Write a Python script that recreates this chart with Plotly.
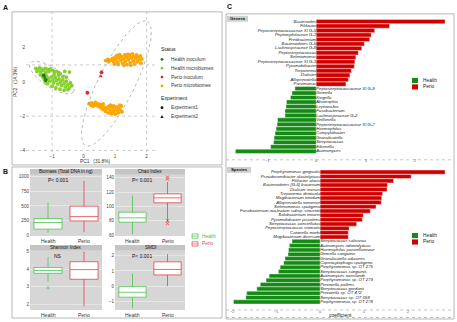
import numpy as np
import plotly.graph_objects as go

W, H = 457, 322
def px(x): return x / W
def py(y): return 1 - y / H

FONT = "Liberation Sans, Arial, sans-serif"

# ---------------- Panel A: PCA data ----------------
health_micro_x = [-1.52,-1.45,-1.40,-1.33,-1.28,-1.22,-1.15,-1.10,-1.05,-0.98,-0.92,-0.86,-0.80,-0.74,-1.48,-1.36,-1.20,
                  -1.38,-1.30,-1.25,-1.18,-1.12,-1.08,-1.02,-0.98,-0.95,-0.90,-0.86,-0.82,-0.78,-0.74,-0.70,-0.66,-0.62,
                  -0.58,-0.55,-0.50,-0.46,-0.42,-0.38,-1.15,-1.00,-0.88,-0.75,-0.62,-0.50,-1.22,-0.94,-0.80,-0.66,-0.55,
                  -0.45,-0.60]
health_micro_y = [0.80,0.72,0.82,0.75,0.68,0.80,0.74,0.62,0.76,0.68,0.58,0.62,0.55,0.48,0.62,0.58,0.55,
                  0.42,0.30,0.15,0.36,0.22,0.05,0.30,0.12,-0.05,0.25,0.08,-0.12,0.18,0.00,-0.20,0.12,-0.08,
                  -0.28,0.05,-0.15,-0.35,-0.05,-0.22,-0.10,-0.25,-0.35,-0.42,-0.48,-0.45,0.02,0.42,0.40,0.32,0.28,
                  0.58,0.62]
health_micro_exp = [1] * len(health_micro_x)

health_inoc_x = [-1.27, -1.20, -1.23]
health_inoc_y = [0.40, 0.11, 0.26]
health_inoc_exp = [1, 1, 2]

perio_inoc_x = [0.12, 0.57, 0.54]
perio_inoc_y = [-0.63, 0.57, 0.34]
perio_inoc_exp = [1, 1, 2]

perio_micro_x = [0.70,0.76,0.80,0.86,0.92,0.95,1.00,1.02,1.06,1.08,1.12,1.15,1.18,1.20,1.24,1.26,1.30,1.32,1.35,1.38,
                 1.40,1.42,1.46,1.48,1.52,1.55,1.57,1.60,1.62,1.65,1.68,1.70,1.73,1.76,1.80,1.82,1.85,1.10,0.98,1.28,
                 1.50,1.45,
                 0.18,0.22,0.26,0.30,0.34,0.38,0.42,0.46,0.50,0.54,0.58,0.60,0.64,0.68,0.70,0.74,0.78,0.80,0.84,0.88,
                 0.90,0.94,0.98,1.00,1.04,1.06,1.10,1.12,1.16,1.20,1.22,0.85,0.62,1.15,0.95]
perio_micro_y = [1.25,1.32,1.18,1.28,1.38,1.20,1.45,1.30,1.55,1.15,1.40,1.60,1.25,1.48,1.08,1.35,1.58,1.20,1.45,1.02,
                 1.62,1.30,1.52,1.12,1.40,1.65,1.22,1.50,1.05,1.35,1.58,1.18,1.45,1.28,1.52,1.10,1.35,1.02,1.05,0.98,
                 0.98,1.60,
                 -1.25,-1.35,-1.22,-1.42,-1.30,-1.20,-1.38,-1.28,-1.45,-1.32,-1.55,-1.40,-1.62,-1.48,-1.72,-1.55,-1.80,
                 -1.42,-1.65,-1.85,-1.50,-1.72,-1.58,-1.88,-1.45,-1.68,-1.80,-1.52,-1.62,-1.40,-1.75,-1.35,-1.28,-1.35,
                 -1.40]
perio_micro_exp = [1] * len(perio_micro_x)

status_names = ["Health inoculum", "Health microbiomes", "Perio inoculum", "Perio microbiomes"]
status_colors = ["#1E7A1E", "#86D02A", "#E4262A", "#FFA500"]
experiment_names = ["Experiment1", "Experiment2"]

# confidence ellipses (center, half-axis vectors) in PC units
ell_health = dict(c=(-1.01, 0.26), u=(0.69, -0.83), v=(-0.17, -0.46))
ell_perio = dict(c=(1.04, -0.09), u=(0.98, 3.63), v=(0.52, -0.46))

# ---------------- Panel B: boxplot stats ----------------
groups = ["Health", "Perio"]
box_titles = ["Biomass (Total DNA in ng)", "Chao Index", "Shannon Index", "SMDI"]
box_pvals = ["P< 0.001", "P< 0.001", "NS", "P< 0.001"]
# per metric: [Health, Perio]
box_low = [[40, 50], [61, 78], [3.27, 1.9], [-1.45, 0.0]]
box_q1 = [[102, 242], [78, 105], [3.77, 3.43], [-0.72, 0.74]]
box_med = [[215, 317], [84, 112], [3.93, 3.98], [-0.40, 1.10]]
box_q3 = [[283, 496], [92, 117.5], [4.10, 4.43], [-0.03, 1.60]]
box_high = [[554, 930], [115, 134], [4.70, 5.0], [0.84, 2.10]]
box_out_y = [[[], []], [[], [141, 138, 80, 76]], [[2.95], []], [[], []]]
box_ranges = [[-17, 1034], [58.6, 144.1], [1.67, 5.05], [-1.57, 2.32]]
box_ticks = [[0, 250, 500, 750, 1000], [60, 80, 100, 120, 140], [2, 3, 4, 5], [-1, 0, 1, 2]]
group_colors = ["#4CC24C", "#E0454F"]

# ---------------- Panel C: coefficients ----------------
genera = ["Bacteroides", "Filifactor", "Peptostreptococcaceae XI G-5", "Peptoniphilaceae G-1", "Fretibacterium",
          "Bacteroidetes G-5", "Lachnospiraceae G-8", "Peptostreptococcus", "Selenomonas",
          "Peptostreptococcaceae XI G-1", "Pyramidobacter", "Treponema", "Dialister", "Alloprevotella",
          "Parvimonas", "Peptostreptococcaceae XI G-9", "Gemella", "Kingella", "Abiotrophia", "Leptotrichia",
          "Fusobacterium", "Lachnospiraceae G-2", "Veillonella", "Peptostreptococcaceae XI G-7", "Haemophilus",
          "Campylobacter", "Granulicatella", "Streptococcus", "Eikenella", "Actinomyces"]
genera_coef = [2.60, 1.48, 1.18, 1.11, 1.08, 0.97, 0.92, 0.85, 0.80, 0.78, 0.77, 0.71, 0.68, 0.65, 0.60,
               -0.43, -0.49, -0.52, -0.60, -0.61, -0.63, -0.63, -0.78, -0.79, -0.81, -0.83, -0.85, -0.86,
               -0.92, -1.63]
genera_ticks = [-1, 0, 1, 2]

species = ["Porphyromonas gingivalis", "Pseudoramibacter alactolyticus", "Filifactor alocis",
           "Bacteroidetes [G-5] bacterium", "Dialister invisus", "Treponema denticola", "Mogibacterium timidum",
           "Alloprevotella tannerae", "Selenomonas sputigena", "Fusobacterium nucleatum subsp. vincentii",
           "Solobacterium moorei", "Pyramidobacter piscolens", "Streptococcus constellatus",
           "Peptostreptococcus stomatis", "Catonella morbi", "Mogibacterium diversum",
           "Streptococcus salivarius", "Actinomyces odontolyticus", "Haemophilus parainfluenzae",
           "Gemella sanguinis", "Granulicatella adiacens", "Capnocytophaga sputigena", "Porphyromonas sp. OT 275",
           "Streptococcus sanguinis", "Actinomyces naeslundii", "Porphyromonas sp. OT 279", "Prevotella pallens",
           "Streptococcus gordonii", "Prevotella sp. OT 472", "Streptococcus sp. OT 058",
           "Porphyromonas sp. OT 278"]
species_coef = [2.84, 2.07, 1.67, 1.53, 1.52, 1.42, 1.40, 1.39, 1.27, 1.14, 0.98, 0.96, 0.83, 0.66, 0.64, 0.64,
                -0.64, -0.70, -0.72, -0.73, -0.80, -0.83, -0.91, -0.95, -1.16, -1.23, -1.36, -1.44, -1.67,
                -1.69, -1.97]
species_ticks = [-2, -1, 0, 1, 2]
bar_colors = {"Health": "#148C14", "Perio": "#D00000"}

# ======================================================
fig = go.Figure()
shapes, annos = [], []

def anno(x, y, text, size=5, color="#222", xanchor="center", yanchor="middle", xref="paper", **kw):
    annos.append(dict(x=(px(x) if xref == "paper" else x), y=py(y), xref=xref, yref="paper", text=text,
                      showarrow=False, font=dict(size=size, color=color, family=FONT),
                      xanchor=xanchor, yanchor=yanchor, **kw))

# ---- Panel A traces
def sym(exps):
    return ["circle" if e == 1 else "triangle-up" for e in exps]

for name, col, xs, ys, ex in [
    ("Health microbiomes", status_colors[1], health_micro_x, health_micro_y, health_micro_exp),
    ("Perio microbiomes", status_colors[3], perio_micro_x, perio_micro_y, perio_micro_exp),
    ("Health inoculum", status_colors[0], health_inoc_x, health_inoc_y, health_inoc_exp),
    ("Perio inoculum", status_colors[2], perio_inoc_x, perio_inoc_y, perio_inoc_exp),
]:
    fig.add_trace(go.Scatter(x=xs, y=ys, mode="markers", name=name, showlegend=False,
                             marker=dict(color=col, size=3.8, symbol=sym(ex), line=dict(width=0)),
                             xaxis="x", yaxis="y"))

t = np.linspace(0, 2 * np.pi, 120)
for e in (ell_health, ell_perio):
    ex = e["c"][0] + np.cos(t) * e["u"][0] + np.sin(t) * e["v"][0]
    ey = e["c"][1] + np.cos(t) * e["u"][1] + np.sin(t) * e["v"][1]
    fig.add_trace(go.Scatter(x=ex, y=ey, mode="lines", showlegend=False, hoverinfo="skip",
                             line=dict(color="#9A9A9A", width=0.7, dash="dot"), xaxis="x", yaxis="y"))

# dotted reference lines in PCA
for xv in (-1, 2):
    shapes.append(dict(type="line", xref="x", yref="y domain", x0=xv, x1=xv, y0=0, y1=1,
                       line=dict(color="#B5B5B5", width=0.7, dash="dot")))
for yv in (1, -2, -4):
    shapes.append(dict(type="line", xref="x domain", yref="y", x0=0, x1=1, y0=yv, y1=yv,
                       line=dict(color="#B5B5B5", width=0.7, dash="dot")))

# ---- Panel B traces
bx = [(30, 102, 175, 237), (115, 185, 175, 237), (30, 102, 252, 312), (115, 185, 252, 312)]
for k in range(4):
    ax = k + 2
    for g in range(2):
        fig.add_trace(go.Box(x=[groups[g]], q1=[box_q1[k][g]], median=[box_med[k][g]], q3=[box_q3[k][g]],
                             lowerfence=[box_low[k][g]], upperfence=[box_high[k][g]], name=groups[g],
                             width=0.78, showlegend=False, fillcolor="white",
                             line=dict(color=group_colors[g], width=0.8),
                             whiskerwidth=0, xaxis=f"x{ax}", yaxis=f"y{ax}", hoverinfo="skip"))
        if box_out_y[k][g]:
            fig.add_trace(go.Scatter(x=[groups[g]] * len(box_out_y[k][g]), y=box_out_y[k][g], mode="markers",
                                     showlegend=False, marker=dict(symbol="x-thin", size=3,
                                     line=dict(color=group_colors[g], width=0.8)),
                                     xaxis=f"x{ax}", yaxis=f"y{ax}"))
    x0, x1, y0, y1 = bx[k]
    shapes.append(dict(type="rect", xref=f"x{ax} domain", yref=f"y{ax} domain", x0=0, x1=1, y0=0, y1=1,
                       fillcolor="#D6D6D6", line=dict(width=0), layer="below"))
    shapes.append(dict(type="rect", xref="paper", yref="paper", x0=px(x0), x1=px(x1), y0=py(y0), y1=py(y0 - 6),
                       fillcolor="#C4C4C4", line=dict(width=0)))
    anno((x0 + x1) / 2, y0 - 3, box_titles[k], size=4.6, color="#111")
    anno((x0 + x1) / 2 - 8, y0 + 5, box_pvals[k], size=5, color="#111")
    for g in range(2):
        anno(groups[g], y1 + 4.5, groups[g], size=5, color="#333", xref=f"x{ax}")

# ---- Panel C bars
def add_bars(names, coefs, ax):
    cols = [bar_colors["Perio"] if c > 0 else bar_colors["Health"] for c in coefs]
    fig.add_trace(go.Bar(x=coefs, y=names, orientation="h",
                         marker=dict(color=cols, line=dict(color="white", width=0.4)),
                         showlegend=False, xaxis=f"x{ax}", yaxis=f"y{ax}"))
    fig.add_trace(go.Scatter(x=[0] * len(names), y=names, mode="text", text=names,
                             textposition=["middle left" if c > 0 else "middle right" for c in coefs],
                             textfont=dict(size=4.3, color="#222", family=FONT, style="italic"),
                             showlegend=False, hoverinfo="skip", xaxis=f"x{ax}", yaxis=f"y{ax}"))

add_bars(genera, genera_coef, 6)
add_bars(species, species_coef, 7)
for tv in genera_ticks:
    anno(tv, 161.5, str(tv).replace("-", "−"), size=3.8, color="#555", xref="x6")
for tv in species_ticks:
    anno(tv, 313.5, str(tv).replace("-", "−"), size=3.8, color="#555", xref="x7")

# ---- Layout axes
tickf = dict(size=4.6, color="#444", family=FONT)
layout_axes = dict(
    xaxis=dict(domain=[px(26), px(157)], range=[-1.83, 2.33], tickvals=[-1, 0, 1, 2], showgrid=False,
               zeroline=False, showline=False, tickfont=tickf, ticks="", anchor="y"),
    yaxis=dict(domain=[py(152), py(10)], range=[-4.1, 4.1], tickvals=[-4, -2, 0, 2], showgrid=False,
               zeroline=False, showline=False, tickfont=tickf, ticks="", anchor="x"),
)
for k in range(4):
    ax = k + 2
    x0, x1, y0, y1 = bx[k]
    layout_axes[f"xaxis{ax}"] = dict(domain=[px(x0), px(x1)], type="category", categoryorder="array",
                                     categoryarray=groups, range=[-0.5, 1.5], showgrid=False, zeroline=False,
                                     showticklabels=False, ticks="", anchor=f"y{ax}")
    layout_axes[f"yaxis{ax}"] = dict(domain=[py(y1), py(y0)], range=box_ranges[k], tickvals=box_ticks[k],
                                     showgrid=True, gridcolor="#E6E6E6", gridwidth=0.5, zeroline=False,
                                     tickfont=tickf, ticks="", anchor=f"x{ax}")

layout_axes["xaxis6"] = dict(domain=[px(226), px(453)], range=[-1.82, 2.76], showticklabels=False,
                             showgrid=False, zeroline=False, ticks="", anchor="y6")
layout_axes["yaxis6"] = dict(domain=[py(158.5), py(12.5)], autorange="reversed", showticklabels=False,
                             showgrid=False, zeroline=False, anchor="x6")
layout_axes["xaxis7"] = dict(domain=[px(226), px(453)], range=[-2.14, 3.02], showticklabels=False,
                             showgrid=False, zeroline=False, ticks="", anchor="y7")
layout_axes["yaxis7"] = dict(domain=[py(311), py(165)], autorange="reversed", showticklabels=False,
                             showgrid=False, zeroline=False, anchor="x7")

# ---- Frames and separators
def rect(x0, y0, x1, y1, **kw):
    shapes.append(dict(type="rect", xref="paper", yref="paper", x0=px(x0), x1=px(x1), y0=py(y1), y1=py(y0), **kw))

rect(12, 10, 222, 165, line=dict(color="#9A9A9A", width=0.7))
rect(12, 167, 222, 320, line=dict(color="#9A9A9A", width=0.7))
rect(226, 12, 454, 321, line=dict(color="#9A9A9A", width=0.7))
for yy in (159.8, 311.8):
    shapes.append(dict(type="line", xref="paper", yref="paper", x0=px(226), x1=px(454), y0=py(yy), y1=py(yy),
                       line=dict(color="#A0A0A0", width=0.6, dash="dot")))
shapes.append(dict(type="line", xref="paper", yref="paper", x0=px(226), x1=px(454), y0=py(319.5), y1=py(319.5),
                   line=dict(color="#A0A0A0", width=0.7, dash="dot")))

# Genera / Species tags
rect(227, 14, 248, 20, fillcolor="#CFCFCF", line=dict(width=0))
anno(237.5, 17, "<b>Genera</b>", size=4.3, color="#111")
rect(227, 167, 251, 173, fillcolor="#CFCFCF", line=dict(width=0))
anno(239, 170, "<b>Species</b>", size=4.3, color="#111")

# Panel letters and axis titles
anno(5, 6, "<b>A</b>", size=7, color="#111")
anno(5, 172, "<b>B</b>", size=7, color="#111")
anno(229, 5, "<b>C</b>", size=7, color="#111")
anno(95, 161, "PC1   (31.8%)", size=4.8, color="#333")
anno(15, 80, "PC2   (14.3%)", size=4.8, color="#333", textangle=-90)
anno(340, 317, "coefficient", size=5, color="#222")

# ---- Manual legends
anno(159, 48, "Status", size=5.2, color="#222", xanchor="left")
for i, (nm, col) in enumerate(zip(status_names, status_colors)):
    yy = 58 + 9 * i
    shapes.append(dict(type="circle", xref="paper", yref="paper", x0=px(160.6), x1=px(163.4),
                       y0=py(yy + 1.4), y1=py(yy - 1.4), fillcolor=col, line=dict(width=0)))
    anno(169, yy, nm, size=4.8, color="#333", xanchor="left")
anno(159, 97, "Experiment", size=5.2, color="#222", xanchor="left")
shapes.append(dict(type="circle", xref="paper", yref="paper", x0=px(160.6), x1=px(163.4),
                   y0=py(108.4), y1=py(105.6), fillcolor="#111", line=dict(width=0)))
anno(169, 107, experiment_names[0], size=4.8, color="#333", xanchor="left")
shapes.append(dict(type="path", xref="paper", yref="paper",
                   path=f"M {px(160.4)},{py(117.4)} L {px(163.6)},{py(117.4)} L {px(162)},{py(114.4)} Z",
                   fillcolor="#111", line=dict(width=0)))
anno(169, 116, experiment_names[1], size=4.8, color="#333", xanchor="left")

for i, g in enumerate(groups):
    yy = 237 + 8 * i
    rect(192, yy - 2.2, 198, yy + 2.2, fillcolor="white", line=dict(color=group_colors[i], width=0.7))
    shapes.append(dict(type="line", xref="paper", yref="paper", x0=px(192), x1=px(198), y0=py(yy), y1=py(yy),
                       line=dict(color=group_colors[i], width=0.7)))
    anno(200, yy, g, size=4.8, color=group_colors[i], xanchor="left")

for ybase in (79.5, 236.5):
    for i, g in enumerate(groups):
        yy = ybase + 6.5 * i
        rect(412, yy - 2.6, 418, yy + 2.6, fillcolor=bar_colors[g], line=dict(width=0))
        anno(421, yy, g, size=4.8, color="#222", xanchor="left")

fig.update_layout(
    width=W, height=H, margin=dict(l=0, r=0, t=0, b=0),
    paper_bgcolor="white", plot_bgcolor="rgba(0,0,0,0)",
    showlegend=False, bargap=0.04, boxmode="overlay",
    font=dict(family=FONT, size=5),
    shapes=shapes, annotations=annos, **layout_axes,
)

fig.write_html("out.html", config={"displayModeBar": False},
               post_script="document.body.style.margin='0px';document.body.style.overflow='hidden';")
